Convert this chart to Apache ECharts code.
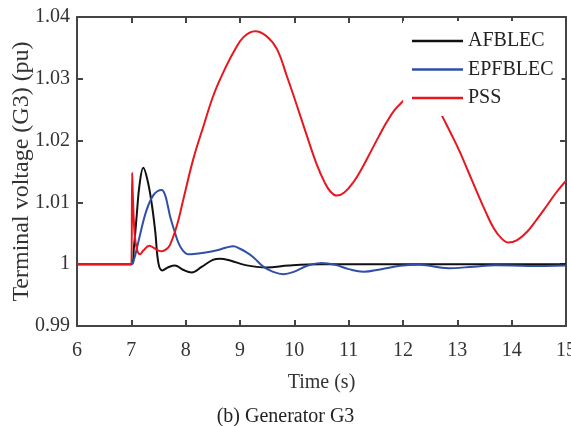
<!DOCTYPE html>
<html>
<head>
<meta charset="utf-8">
<script src="https://cdn.jsdelivr.net/npm/echarts@6/dist/echarts.min.js"></script>
<style>html,body{margin:0;padding:0;background:#fff}#c{width:571px;height:426px}</style>
</head>
<body>
<div id="c"></div>
<script>
const seriesNames = ['AFBLEC', 'EPFBLEC', 'PSS'];
const xTicks = [6, 7, 8, 9, 10, 11, 12, 13, 14, 15];
const yTicks = [0.99, 1.00, 1.01, 1.02, 1.03, 1.04];

const tAF = [6, 7.0, 7.05, 7.1, 7.15, 7.22, 7.3, 7.38, 7.44, 7.5, 7.57, 7.68, 7.8, 7.95, 8.11, 8.3, 8.5, 8.63, 8.82, 9.1, 9.49, 9.9, 10.47, 11, 12, 13, 14, 15];
const vAF = [1.0, 1.0, 1.003, 1.008, 1.0128, 1.0156, 1.0135, 1.0095, 1.0053, 1.0001, 0.9990, 0.9995, 0.9998, 0.9991, 0.99866, 0.9996, 1.0007, 1.0009, 1.0006, 0.99985, 0.99947, 0.9998, 1.0, 1.0, 1.0, 1.0, 1.0, 1.0];

const tEP = [6, 7.0, 7.05, 7.1, 7.18, 7.25, 7.32, 7.4, 7.48, 7.56, 7.62, 7.67, 7.72, 7.8, 7.87, 7.95, 8.05, 8.2, 8.45, 8.6, 8.75, 8.88, 9.0, 9.12, 9.25, 9.43, 9.6, 9.8, 10.0, 10.25, 10.5, 10.75, 11.0, 11.27, 11.6, 11.95, 12.3, 12.84, 13.3, 13.7, 14.3, 15];
const vEP = [1.0, 1.0, 1.0008, 1.0025, 1.0055, 1.0079, 1.0097, 1.0111, 1.0118, 1.0120, 1.0112, 1.0095, 1.0075, 1.0052, 1.0034, 1.0022, 1.0016, 1.0017, 1.0020, 1.0023, 1.0027, 1.0029, 1.0025, 1.0019, 1.0011, 0.9996, 0.9988, 0.99839, 0.9988, 0.9998, 1.0002, 0.9999, 0.9992, 0.99877, 0.9992, 0.99974, 0.9999, 0.99935, 0.9996, 0.99984, 0.9997, 0.9998];

const tPSS = [6, 7.0, 7.015, 7.03, 7.06, 7.1, 7.16, 7.22, 7.33, 7.42, 7.5, 7.56, 7.64, 7.71, 7.84, 7.96, 8.14, 8.33, 8.51, 8.69, 8.88, 9.06, 9.28, 9.49, 9.68, 9.86, 10.05, 10.23, 10.41, 10.56, 10.66, 10.78, 10.92, 11.09, 11.25, 11.4, 11.55, 11.7, 11.85, 11.98, 12.15, 12.3, 12.45, 12.6, 12.72, 12.88, 13.05, 13.2, 13.36, 13.52, 13.67, 13.8, 13.94, 14.1, 14.28, 14.46, 14.65, 14.82, 15];
const vPSS = [1.0, 1.0, 1.0148, 1.0105, 1.005, 1.0025, 1.0016, 1.0022, 1.0030, 1.0026, 1.0022, 1.0021, 1.0024, 1.0031, 1.0063, 1.0106, 1.0170, 1.0224, 1.0273, 1.0310, 1.0343, 1.0367, 1.0377, 1.0369, 1.0348, 1.0305, 1.0256, 1.0208, 1.0162, 1.0132, 1.0118, 1.0111, 1.0116, 1.0133, 1.0156, 1.0181, 1.0206, 1.0230, 1.0250, 1.0262, 1.0276, 1.0282, 1.0278, 1.0263, 1.0240, 1.0212, 1.0181, 1.0150, 1.0117, 1.0085, 1.0058, 1.0043, 1.0035, 1.0039, 1.0052, 1.0072, 1.0095, 1.0116, 1.0135];

const colors = ['#111111', '#3050a8', '#e8161e'];
const font = 'Liberation Serif';

function pairs(t, v) { return t.map((x, i) => [x, v[i]]); }

const chart = echarts.init(document.getElementById('c'), null, {renderer: 'canvas'});
const axisLine = {show: true, lineStyle: {color: '#444', width: 2}};
const axisTick = {show: true, inside: true, length: 6, lineStyle: {color: '#444', width: 2}};
chart.setOption({
  animation: false,
  backgroundColor: '#fff',
  title: {
    text: '(b) Generator G3', left: 'center', top: 402,
    textStyle: {fontFamily: font, fontSize: 20, fontWeight: 'normal', color: '#222'}
  },
  grid: {left: 77, right: 5, top: 17, bottom: 100, containLabel: false, outerBoundsMode: 'none'},
  legend: {
    data: seriesNames.map((n, i) => ({name: n, icon: 'rect', itemStyle: {color: colors[i]}})),
    orient: 'vertical', left: 403, top: 21,
    padding: [10, 8, 8, 9], itemGap: 8.5, itemWidth: 51, itemHeight: 2.5,
    backgroundColor: '#fff', z: 10,
    textStyle: {fontFamily: font, fontSize: 20, color: '#222', lineHeight: 20}
  },
  xAxis: [{
    type: 'value', min: xTicks[0], max: xTicks[xTicks.length - 1], interval: 1,
    name: 'Time (s)', nameLocation: 'middle', nameGap: 47, nameMoveOverlap: false,
    nameTextStyle: {fontFamily: font, fontSize: 20, color: '#333'},
    axisLine, axisTick,
    axisLabel: {fontFamily: font, fontSize: 20, color: '#333', margin: 15, showMaxLabel: true, hideOverlap: false},
    splitLine: {show: false}
  }, {
    type: 'value', position: 'top', min: xTicks[0], max: xTicks[xTicks.length - 1], interval: 1,
    axisLine, axisTick, axisLabel: {show: false}, splitLine: {show: false}
  }],
  yAxis: [{
    type: 'value', min: yTicks[0], max: yTicks[yTicks.length - 1], interval: 0.01,
    name: 'Terminal voltage (G3) (pu)', nameLocation: 'middle', nameGap: 43, nameMoveOverlap: false,
    nameTextStyle: {fontFamily: font, fontSize: 24, color: '#333'},
    axisLine, axisTick,
    axisLabel: {fontFamily: font, fontSize: 20, color: '#333', margin: 7,
      formatter: v => (Math.abs(v - 1) < 1e-9 ? '1' : v.toFixed(2))},
    splitLine: {show: false}
  }, {
    type: 'value', position: 'right', min: yTicks[0], max: yTicks[yTicks.length - 1], interval: 0.01,
    axisLine, axisTick, axisLabel: {show: false}, splitLine: {show: false}
  }],
  series: [
    {name: seriesNames[0], type: 'line', data: pairs(tAF, vAF), showSymbol: false, symbol: 'none', smooth: 0.4, lineStyle: {color: colors[0], width: 2}, itemStyle: {color: colors[0]}, z: 2},
    {name: seriesNames[1], type: 'line', data: pairs(tEP, vEP), showSymbol: false, symbol: 'none', smooth: 0.4, lineStyle: {color: colors[1], width: 2}, itemStyle: {color: colors[1]}, z: 3},
    {name: seriesNames[2], type: 'line', data: pairs(tPSS, vPSS), showSymbol: false, symbol: 'none', smooth: 0.4, lineStyle: {color: colors[2], width: 2}, itemStyle: {color: colors[2]}, z: 4}
  ]
});
</script>
</body>
</html>
